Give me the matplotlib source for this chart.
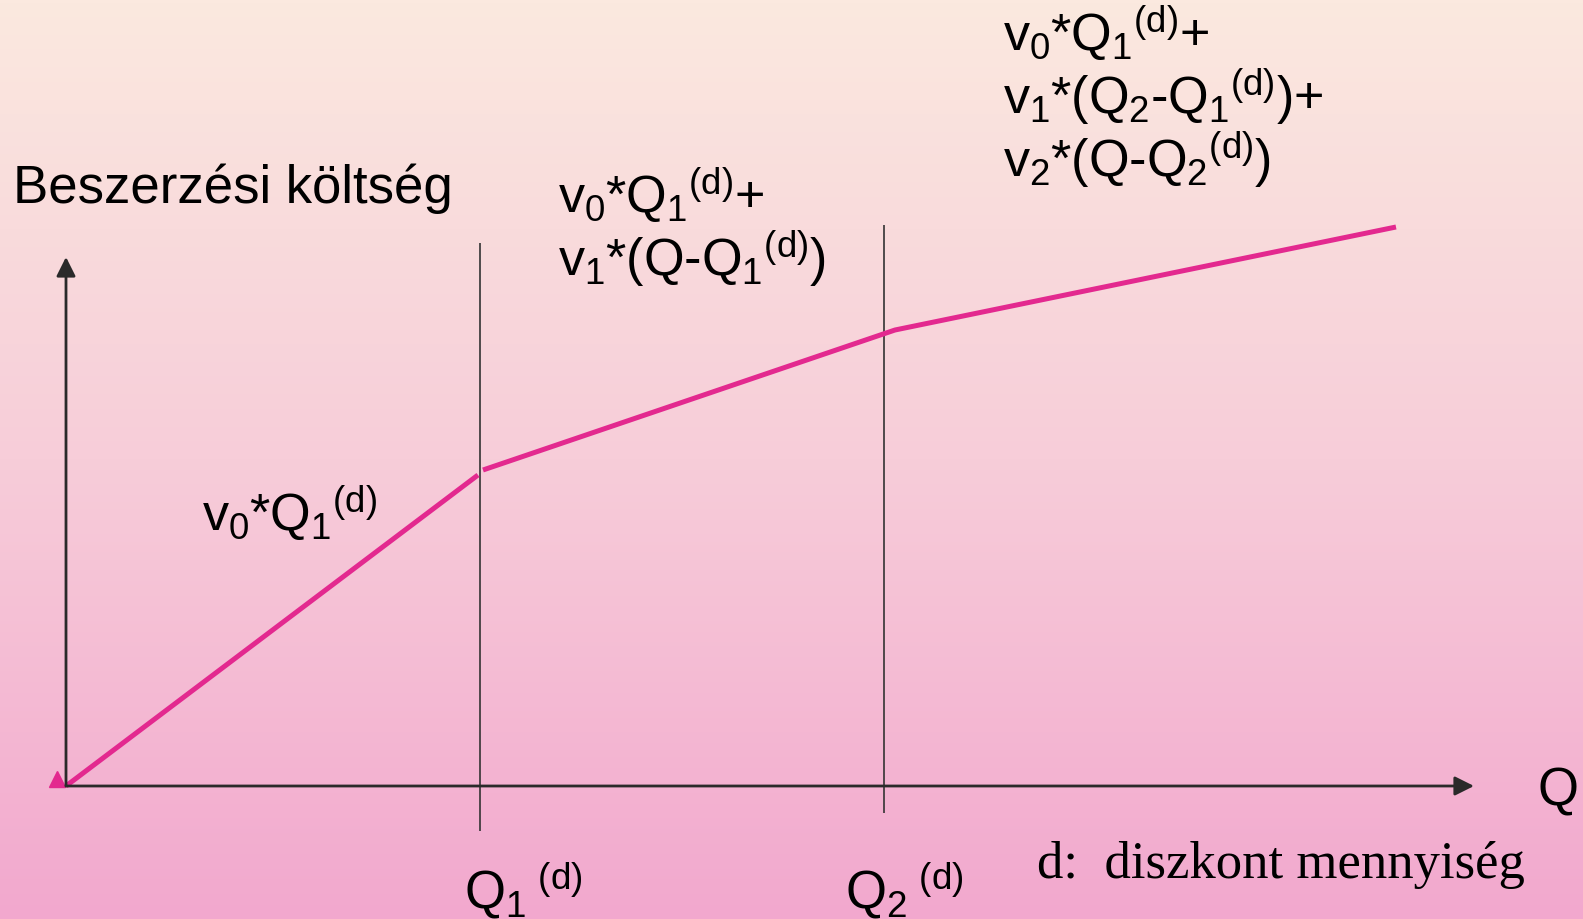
import numpy as np
import matplotlib
matplotlib.use('Agg')
import matplotlib.pyplot as plt
from matplotlib.colors import LinearSegmentedColormap

plt.rcParams['font.family'] = ['Liberation Sans', 'DejaVu Sans']
plt.rcParams['mathtext.fontset'] = 'custom'
plt.rcParams['mathtext.rm'] = 'Liberation Sans'
plt.rcParams['mathtext.it'] = 'Liberation Sans'
plt.rcParams['mathtext.bf'] = 'Liberation Sans:bold'

# purchase cost curve (quantity, cost), broken at the discount quantities
seg1_q = [0.0, 4.12]
seg1_cost = [0.0, 3.11]
seg2_q = [4.17, 8.29, 13.30]
seg2_cost = [3.16, 4.56, 5.59]

# discount quantities Q1(d), Q2(d) and extent of their marker lines
discount_q = [4.14, 8.18]
discount_top = [5.43, 5.61]
discount_bottom = [-0.45, -0.27]

# axis lengths
q_axis_end = 14.08
cost_axis_end = 5.29

# small triangle at the origin
start_q = [-0.09]
start_cost = [0.07]

W, H = 1583, 920
fig = plt.figure(figsize=(W / 100, H / 100), dpi=100)

# background gradient
bg = fig.add_axes([0, 0, 1, 1])
cmap = LinearSegmentedColormap.from_list('bg', ['#f2a8ce', '#f7cdd9', '#fbe9df'])
grad = np.linspace(0, 1, 256).reshape(-1, 1)
bg.imshow(grad, aspect='auto', cmap=cmap, origin='lower', extent=[0, 1, 0, 1])
bg.axis('off')

ax = fig.add_axes([0, 0, 1, 1])
ax.set_xlim(-0.66, (W - 66) / 100)
ax.set_ylim(-(H - 787) / 100, 787 / 100)
ax.axis('off')
ax.patch.set_alpha(0)

pink = '#e3298f'
dark = '#2a2a2a'

# axes with arrows
arrow = dict(arrowstyle='-|>,head_length=0.4,head_width=0.2', mutation_scale=29,
             lw=2.0, color=dark, shrinkA=0, shrinkB=0)
ax.annotate('', xy=(q_axis_end, 0), xytext=(0, 0), arrowprops=arrow)
ax.annotate('', xy=(0, cost_axis_end), xytext=(0, 0), arrowprops=arrow)

# discount lines
ax.vlines(discount_q, discount_bottom, discount_top, color='#333333', lw=1.2)

# cost curve
ax.plot(seg1_q, seg1_cost, color=pink, lw=3.6, solid_capstyle='butt')
ax.plot(seg2_q, seg2_cost, color=pink, lw=3.6, solid_capstyle='butt')
ax.plot(start_q, start_cost, marker='^', color=pink, ms=12, ls='none')


def put(x, y, s, size, **kw):
    fig.text(x / W, 1 - y / H, s, fontsize=size, va='baseline', ha='left', color='black', **kw)


put(13, 203, 'Beszerzési költség', 38)

f = 37.5
put(558, 214, r'$v_0\text{*}Q_1{}^{(d)}\text{+}$', f)
put(558, 277, r'$v_1\text{*}(Q\text{-}Q_1{}^{(d)})$', f)

put(1003, 52, r'$v_0\text{*}Q_1{}^{(d)}\text{+}$', f)
put(1003, 115, r'$v_1\text{*}(Q_2\text{-}Q_1{}^{(d)})\text{+}$', f)
put(1003, 178, r'$v_2\text{*}(Q\text{-}Q_2{}^{(d)})$', f)

put(202, 532, r'$v_0\text{*}Q_1{}^{(d)}$', f)

put(464, 909, r'$Q_1{}^{\ (d)}$', 38)
put(845, 909, r'$Q_2{}^{\ (d)}$', 38)
put(1538, 806, 'Q', 38)

put(1037, 878, 'd:  diszkont mennyiség', 38, family='Liberation Serif')

fig.savefig('out.png', dpi=100)
